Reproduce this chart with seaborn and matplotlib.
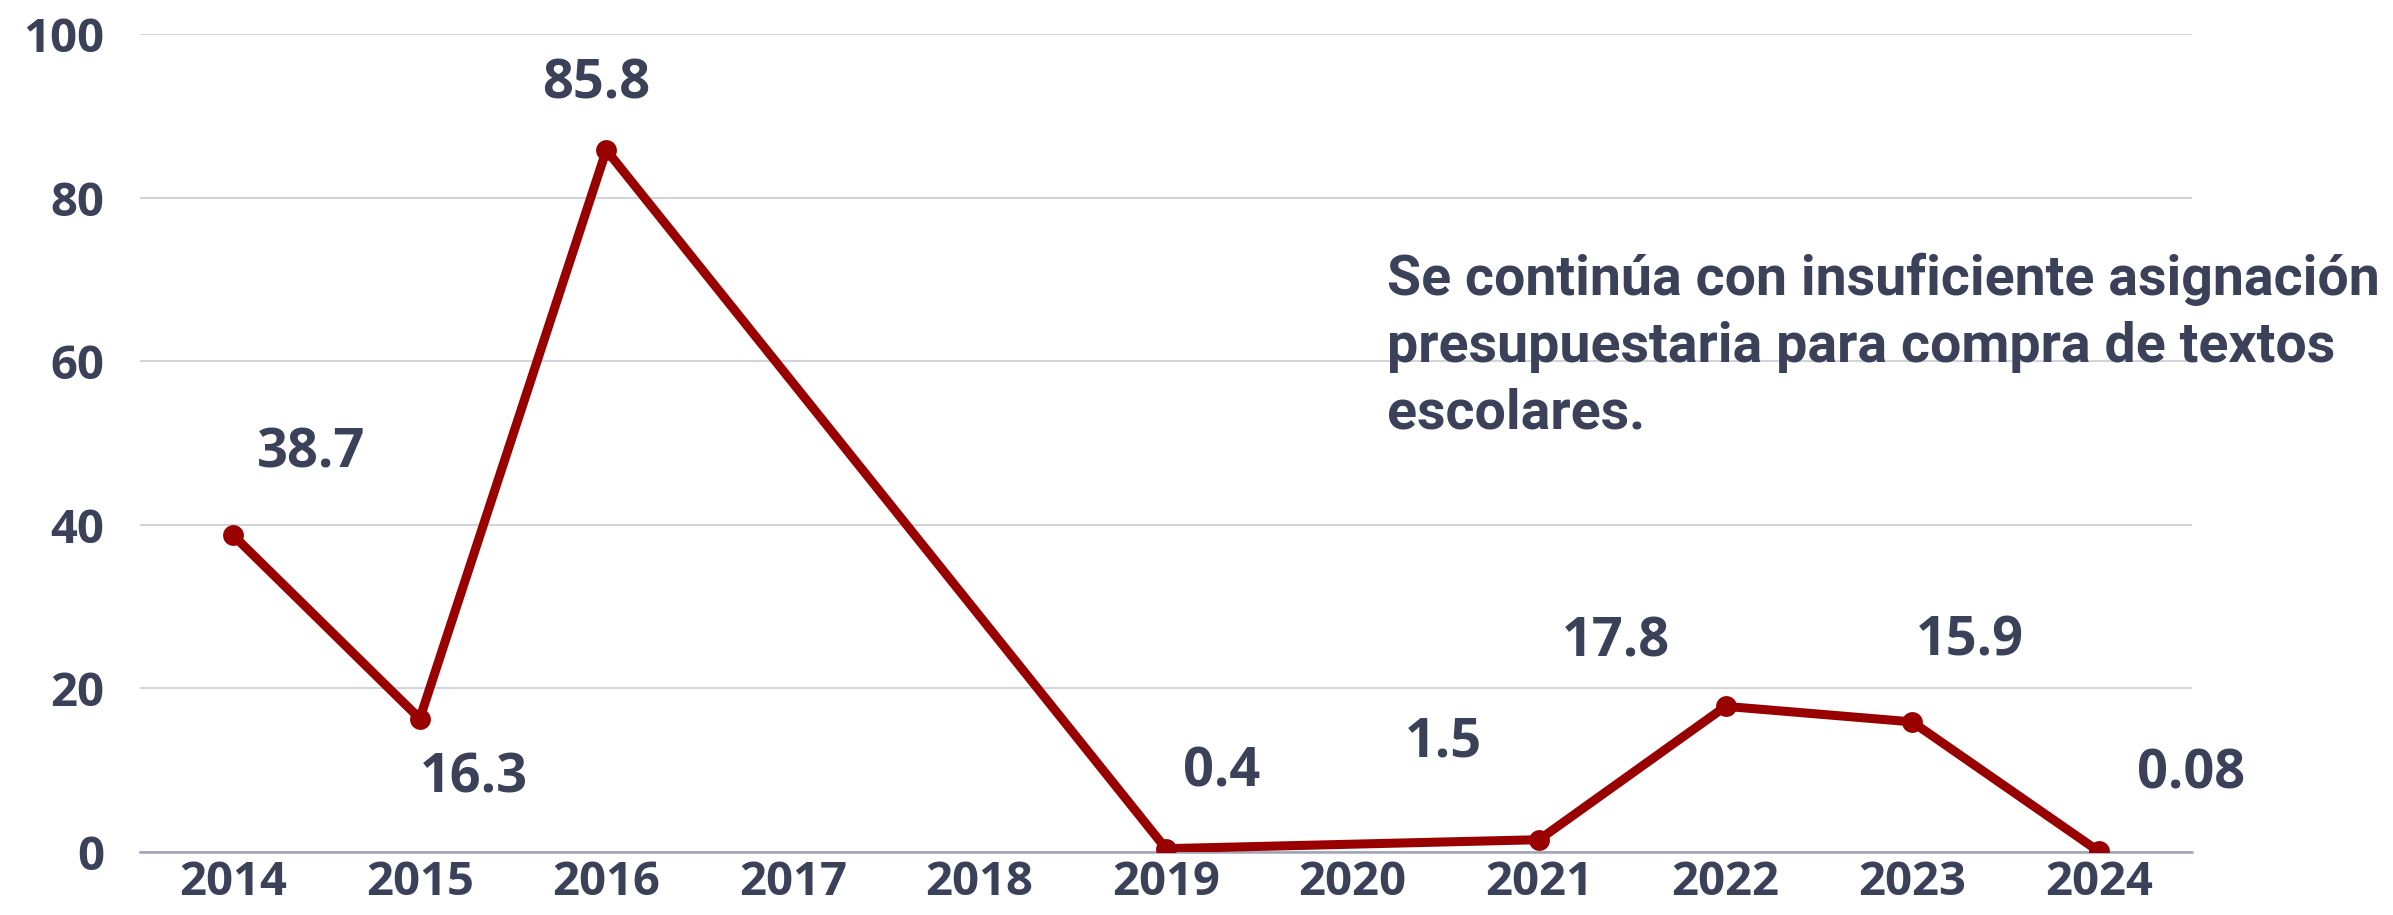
import numpy as np
import pandas as pd
import matplotlib
matplotlib.use("Agg")
import matplotlib.pyplot as plt
import seaborn as sns

# ================== 数据 ==================
anios = [2014, 2015, 2016, 2017, 2018, 2019, 2020, 2021, 2022, 2023, 2024]
anios_con_dato = [2014, 2015, 2016, 2019, 2021, 2022, 2023, 2024]
valores = [38.7, 16.3, 85.8, 0.4, 1.5, 17.8, 15.9, 0.08]
etiquetas = ["38.7", "16.3", "85.8", "0.4", "1.5", "17.8", "15.9", "0.08"]
# desplazamiento de cada etiqueta respecto a su punto (pixeles)
desplaz = [(78, 82), (54, -60), (-10, 66), (56, 76), (-96, 97), (-110, 64), (58, 80), (92, 77)]
yticks = [0, 20, 40, 60, 80, 100]
nota = ["Se continúa con insuficiente asignación",
        "presupuestaria para compra de textos",
        "escolares."]

TXT = "#3b4159"
ROJO = "#990000"

df = pd.DataFrame({"anio": anios_con_dato, "valor": valores})

sns.set_theme(style="white")
plt.rcParams["font.family"] = ["Open Sans", "DejaVu Sans"]

fig = plt.figure(figsize=(23.93, 9.15), dpi=100)
ax = fig.add_axes([0.0585, 0.0689, 0.8575, 0.894])

sns.lineplot(data=df, x="anio", y="valor", ax=ax, color=ROJO, linewidth=6.5,
             marker="o", markersize=15, markeredgewidth=0, zorder=3)

ax.set_xlim(2013.5, 2024.5)
ax.set_ylim(0, 100)
ax.set_xticks(anios)
ax.set_xticklabels([str(a) for a in anios])
ax.set_yticks(yticks)
ax.set_xlabel("")
ax.set_ylabel("")
ax.tick_params(axis="both", length=0, labelsize=34, labelcolor=TXT)
ax.tick_params(axis="x", pad=5)
ax.tick_params(axis="y", pad=26)
for lab in ax.get_xticklabels() + ax.get_yticklabels():
    lab.set_fontweight("bold")

ax.grid(axis="y", color="#d3d3da", linewidth=1.5)
ax.set_axisbelow(True)
for s in ["top", "right", "left"]:
    ax.spines[s].set_visible(False)
ax.spines["bottom"].set_color("#a0a3b5")
ax.spines["bottom"].set_linewidth(1.8)

for x, y, t, (dx, dy) in zip(anios_con_dato, valores, etiquetas, desplaz):
    ax.annotate(t, (x, y), xytext=(dx, dy), textcoords="offset pixels",
                ha="center", va="center", fontsize=39, fontweight="bold",
                color=TXT)

for i, linea in enumerate(nota):
    fig.text(1387 / 2393, 1 - (295 + 67 * i) / 915, linea, ha="left", va="baseline",
             fontsize=40, fontweight="bold", color=TXT,
             family=["Roboto", "DejaVu Sans"])

fig.savefig("out.png", dpi=100)
